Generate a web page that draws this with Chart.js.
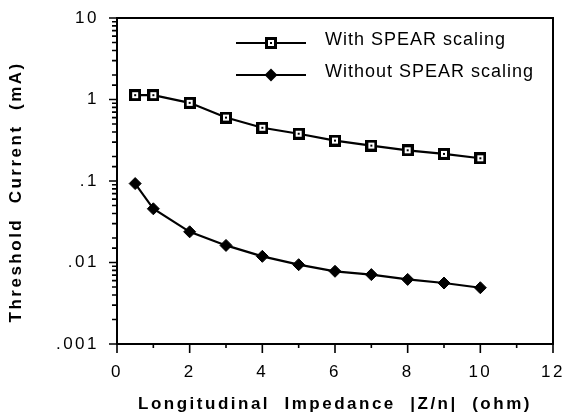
<!DOCTYPE html>
<html>
<head>
<meta charset="utf-8">
<title>Threshold current vs longitudinal impedance</title>
<script src="https://cdn.jsdelivr.net/npm/chart.js@4.4.0/dist/chart.umd.min.js"></script>
<style>
  html, body { margin: 0; padding: 0; background: #fff; }
  #wrap { width: 568px; height: 417px; }
</style>
</head>
<body>
<div id="wrap"><canvas id="threshold-chart" width="568" height="417"></canvas></div>
<script>
// impedance |Z/n| in ohm, threshold current in mA
const impedance = [0.5, 1, 2, 3, 4, 5, 6, 7, 8, 9, 10];
const withScaling = [1.13, 1.13, 0.91, 0.6, 0.45, 0.38, 0.313, 0.272, 0.238, 0.215, 0.19];
const withoutScaling = [0.093, 0.0456, 0.0238, 0.0162, 0.0119, 0.0094, 0.0078, 0.0071, 0.0062, 0.0056, 0.0049];
const seriesNames = ["With SPEAR scaling", "Without SPEAR scaling"];
const xTickLabels = ["0", "2", "4", "6", "8", "10", "12"];
const yTickLabels = [".001", ".01", ".1", "1", "10"];

const fontFamily = "'Liberation Sans', Arial, Helvetica, sans-serif";

function isDecade(value) {
    const p = Math.log10(value);
    return Math.abs(p - Math.round(p)) < 1e-9;
}

// open square with a small dot in the middle
function squareMarker() {
    const c = document.createElement("canvas");
    c.width = 12;
    c.height = 12;
    const g = c.getContext("2d");
    g.fillStyle = "#000";
    g.fillRect(0, 0, 12, 12);
    g.fillStyle = "#fff";
    g.fillRect(3, 3, 6, 6);
    g.fillStyle = "#000";
    g.fillRect(5, 5, 2, 2);
    return c;
}

const squareStyle = squareMarker();

// axis text in the old plot is set wide
const spacedText = {
    id: "spacedText",
    beforeLayout(chart) { chart.ctx.letterSpacing = "2.5px"; },
    beforeDraw(chart) { chart.ctx.letterSpacing = "2.5px"; }
};

// frame round the plot plus major/minor tick marks
const frameTicks = {
    id: "frameTicks",
    afterDraw(chart) {
        const {ctx, chartArea, scales: {x, y}} = chart;
        ctx.save();
        ctx.strokeStyle = "#000";
        ctx.lineWidth = 2;
        ctx.strokeRect(chartArea.left, chartArea.top, chartArea.width, chartArea.height);
        ctx.lineWidth = 1.6;
        ctx.beginPath();
        y.ticks.forEach(t => {
            const py = y.getPixelForValue(t.value);
            const len = isDecade(t.value) ? 8 : 5;
            ctx.moveTo(chartArea.left - len, py);
            ctx.lineTo(chartArea.left, py);
        });
        x.ticks.forEach(t => {
            const px = x.getPixelForValue(t.value);
            const len = t.value % 2 === 0 ? 9 : 4;
            ctx.moveTo(px, chartArea.bottom);
            ctx.lineTo(px, chartArea.bottom + len);
        });
        ctx.stroke();
        ctx.restore();
    }
};

// legend: line segment with the marker in the middle, then the label
const lineLegend = {
    id: "lineLegend",
    afterDraw(chart) {
        const {ctx} = chart;
        ctx.save();
        ctx.letterSpacing = "1px";
        ctx.font = "18px " + fontFamily;
        ctx.fillStyle = "#000";
        ctx.strokeStyle = "#000";
        ctx.textBaseline = "alphabetic";
        chart.data.datasets.forEach((ds, i) => {
            const ly = 43 + i * 32;
            ctx.lineWidth = 2;
            ctx.beginPath();
            ctx.moveTo(236, ly);
            ctx.lineTo(306, ly);
            ctx.stroke();
            Chart.helpers.drawPoint(ctx, {
                pointStyle: ds.pointStyle,
                radius: ds.pointRadius - 1,
                borderWidth: 1,
                rotation: 0
            }, 271, ly);
            ctx.fillText(ds.label, 325, ly + 2);
        });
        ctx.restore();
    }
};

const chartCanvas = document.getElementById("threshold-chart");

new Chart(chartCanvas, {
    type: "line",
    data: {
        datasets: [{
            label: seriesNames[0],
            data: impedance.map((z, i) => ({x: z, y: withScaling[i]})),
            borderColor: "#000",
            borderWidth: 2.2,
            backgroundColor: "#000",
            pointStyle: squareStyle,
            pointRadius: 6,
            tension: 0
        }, {
            label: seriesNames[1],
            data: impedance.map((z, i) => ({x: z, y: withoutScaling[i]})),
            borderColor: "#000",
            borderWidth: 2.2,
            backgroundColor: "#000",
            pointStyle: "rectRot",
            pointRadius: 6,
            pointBorderWidth: 1,
            tension: 0
        }]
    },
    options: {
        responsive: false,
        animation: false,
        events: [],
        layout: {padding: {left: 0, right: 15, top: 18, bottom: 0}},
        plugins: {
            legend: {display: false},
            tooltip: {enabled: false}
        },
        scales: {
            x: {
                type: "linear",
                min: 0,
                max: 12,
                border: {color: "#000", width: 2},
                grid: {display: false},
                ticks: {
                    stepSize: 1,
                    autoSkip: false,
                    maxRotation: 0,
                    padding: 10,
                    color: "#000",
                    font: {family: fontFamily, size: 17},
                    callback: (value) => value % 2 === 0 ? xTickLabels[value / 2] : ""
                },
                title: {
                    display: true,
                    text: "Longitudinal  Impedance  |Z/n|  (ohm)",
                    color: "#000",
                    font: {family: fontFamily, size: 17, weight: "bold"},
                    padding: {top: 0, bottom: 2}
                },
                afterFit: (scale) => {
                    scale.height = 73;
                    scale.paddingLeft = 0;
                    scale.paddingRight = 0;
                }
            },
            y: {
                type: "logarithmic",
                min: 0.001,
                max: 10,
                border: {color: "#000", width: 2},
                grid: {display: false},
                ticks: {
                    autoSkip: false,
                    padding: 10,
                    color: "#000",
                    font: {family: fontFamily, size: 17},
                    callback: (value) => isDecade(value) ? yTickLabels[Math.round(Math.log10(value)) + 3] : ""
                },
                title: {
                    display: true,
                    // trailing spaces nudge the rotated title a little lower
                    text: "Threshold  Current  (mA)   ",
                    color: "#000",
                    font: {family: fontFamily, size: 17, weight: "bold"},
                    padding: {top: 6, bottom: 0}
                },
                afterFit: (scale) => {
                    scale.width = 117;
                    scale.paddingTop = 0;
                    scale.paddingBottom = 0;
                }
            }
        }
    },
    plugins: [spacedText, frameTicks, lineLegend]
});
</script>
</body>
</html>
